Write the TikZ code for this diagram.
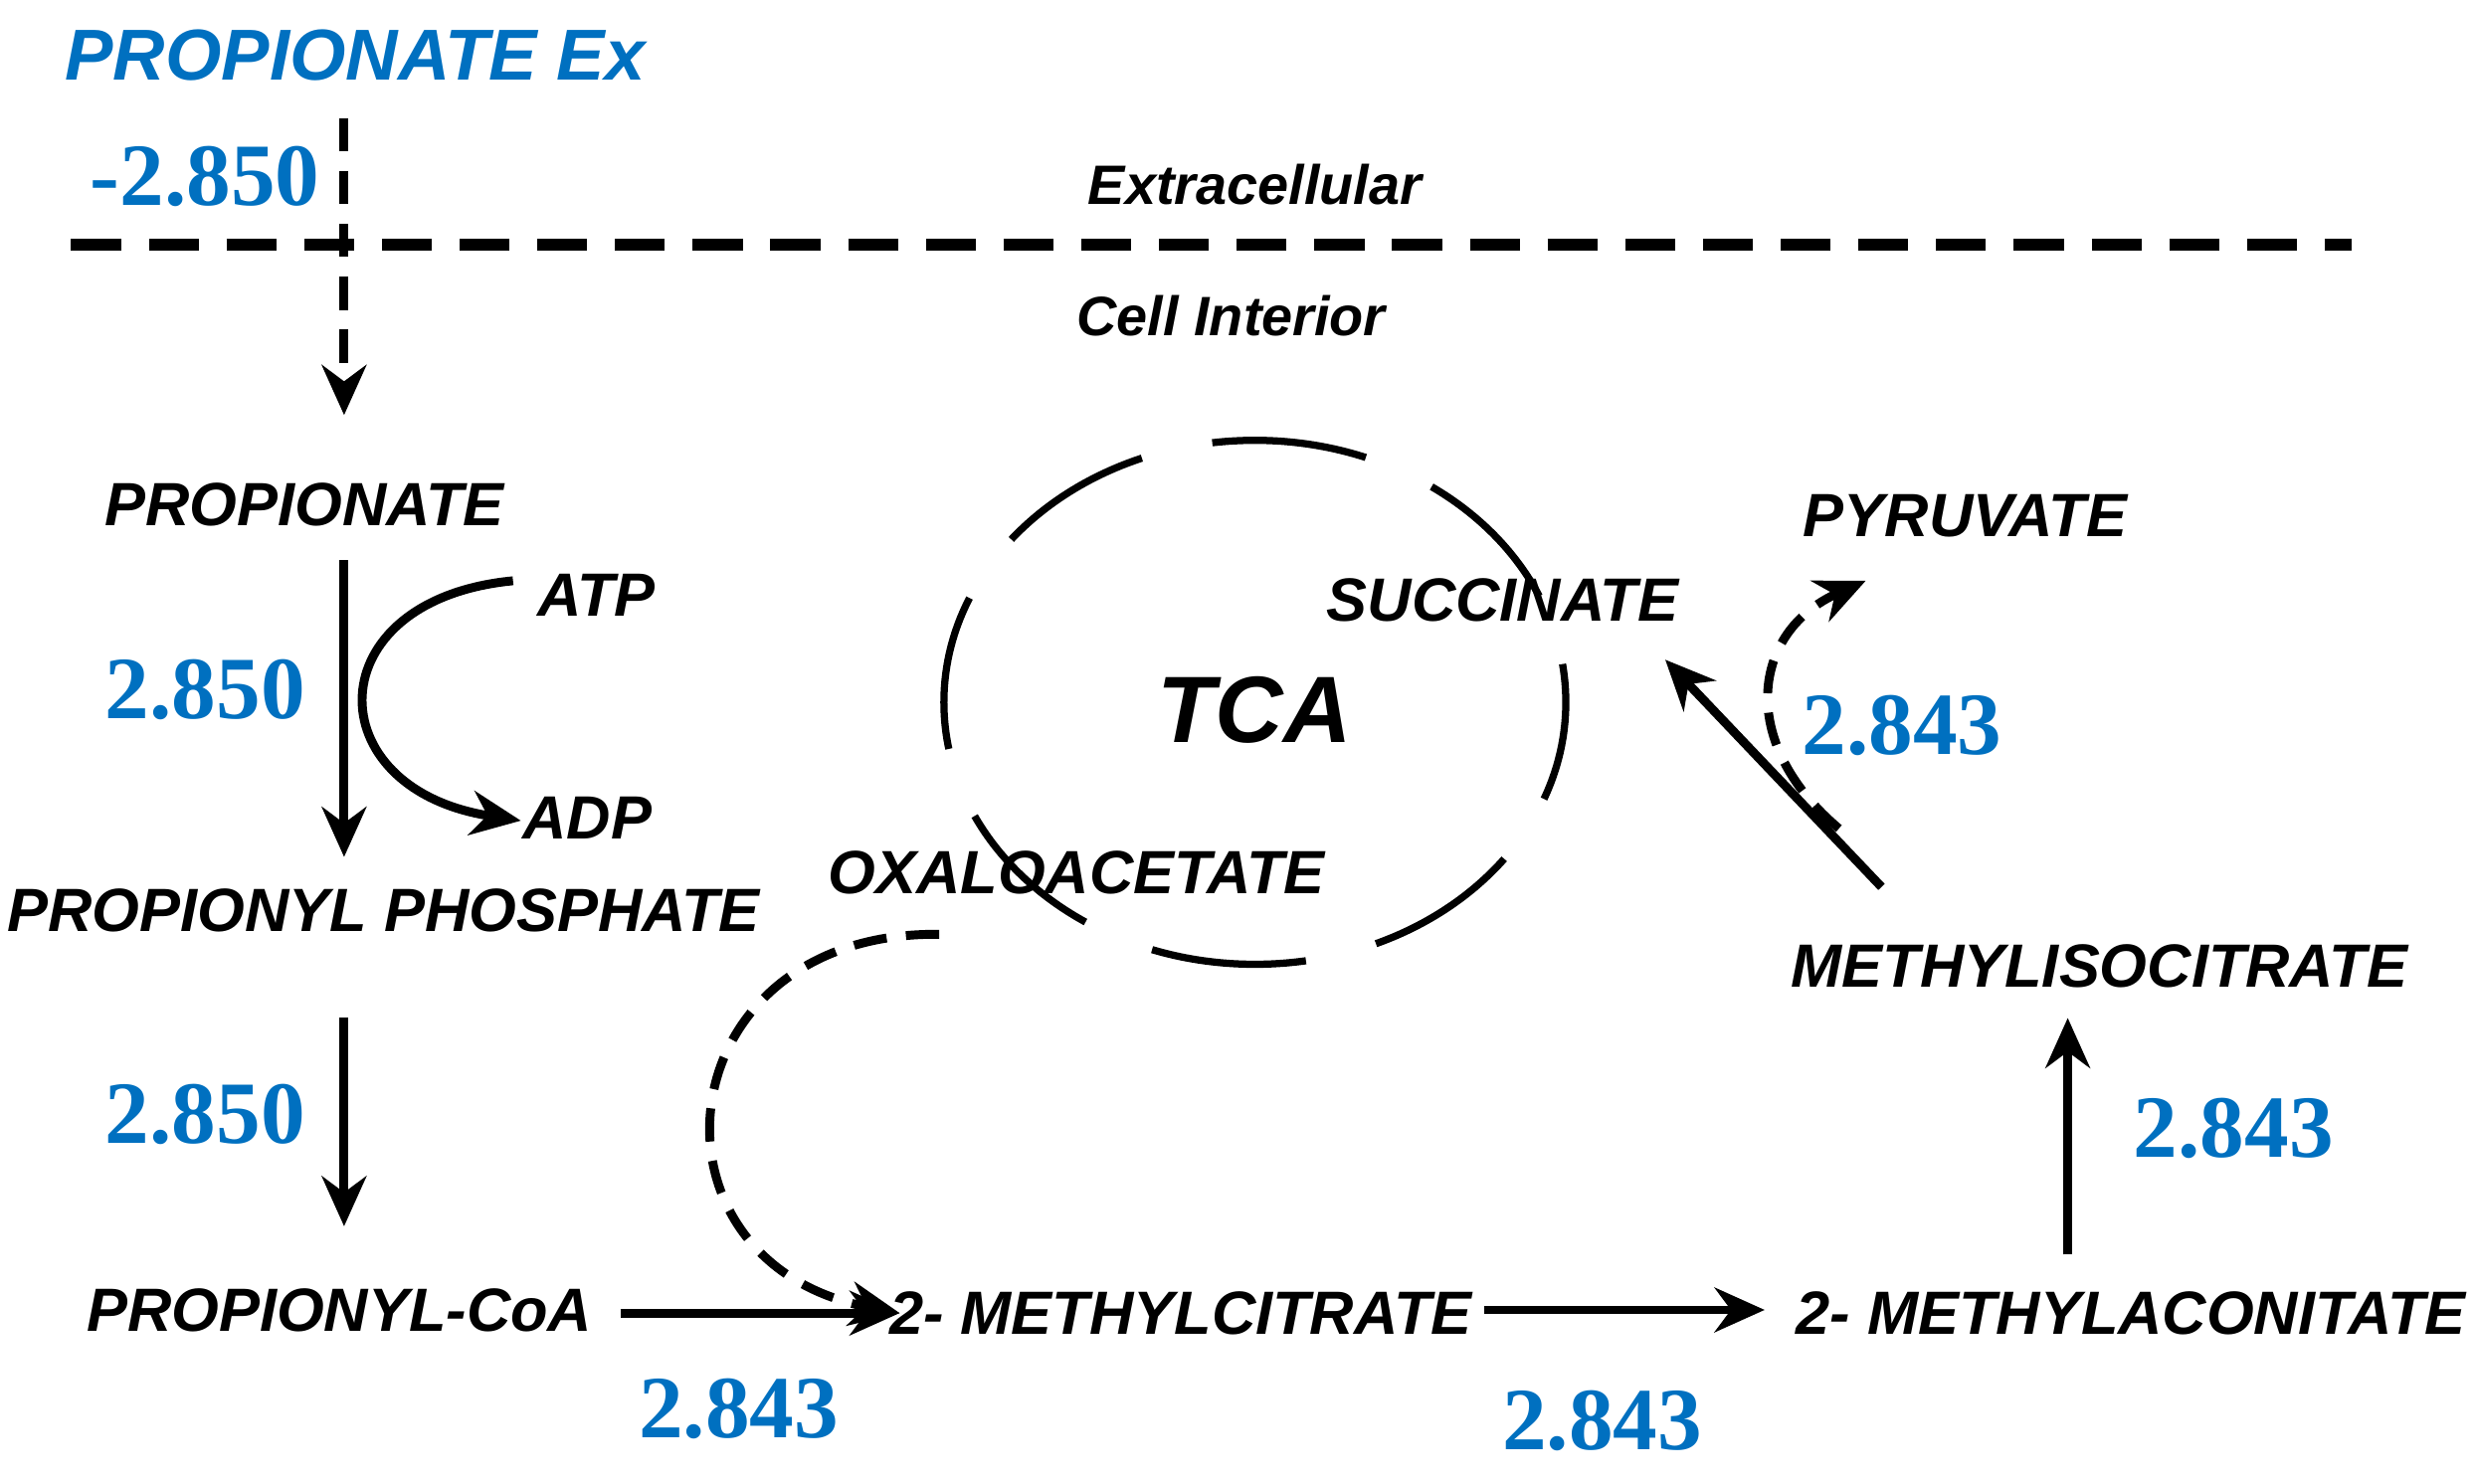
\documentclass[tikz,border=0pt]{standalone}
\usepackage{fontspec}
\setmainfont{Liberation Sans}
\newfontfamily\numfont{Liberation Serif}
\usetikzlibrary{arrows.meta}
\definecolor{nblue}{RGB}{0,112,192}
\tikzset{
 lab/.style={font=\fontsize{11}{13}\selectfont\bfseries\itshape},
 num/.style={font=\fontsize{16}{18}\selectfont\numfont\bfseries, text=nblue},
 arr/.style={line width=1.6pt, -{Stealth[length=9pt,width=8pt]}},
 darr/.style={arr, dash pattern=on 6pt off 3.5pt},
}
\begin{document}
\begin{tikzpicture}[x=0.01cm,y=-0.01cm]
\useasboundingbox (0,0) rectangle (1568,940);
\node[lab,text=nblue,font=\fontsize{13}{15}\selectfont\bfseries\itshape] (pex) at (225,35) {PROPIONATE Ex};
\node[num] (n0) at (130,112) {-2.850};
\node[lab,font=\fontsize{10}{12}\selectfont\bfseries\itshape] (ext) at (795,117) {Extracellular};
\node[lab,font=\fontsize{10}{12}\selectfont\bfseries\itshape] (cin) at (780,200) {Cell Interior};
\coordinate (m1) at (45,155); \coordinate (m2) at (1490,155);
\draw[line width=2.2pt, dash pattern=on 9pt off 5pt] (m1) -- (m2);
\coordinate (t0) at (218,75); \coordinate (t1) at (218,263);
\draw[darr] (t0) -- (t1);
\node[lab] (prop) at (193,320) {PROPIONATE};
\coordinate (a0) at (218,355); \coordinate (a1) at (218,543);
\draw[arr] (a0) -- (a1);
\node[num] (n1) at (130,437) {2.850};
\node[lab] (atp) at (378,377) {ATP};
\node[lab] (adp) at (372,518) {ADP};
\coordinate (c0) at (325,368); \coordinate (c1) at (330,520);
\draw[arr] (c0) .. controls (200,380) and (200,500) .. (c1);
\node[lab] (pp) at (243,577) {PROPIONYL PHOSPHATE};
\coordinate (b0) at (218,645); \coordinate (b1) at (218,777);
\draw[arr] (b0) -- (b1);
\node[num] (n2) at (130,706) {2.850};
\node[lab] (pcoa) at (215,830) {PROPIONYL-CoA};
\node[lab] (mc) at (748,832) {2- METHYLCITRATE};
\node[lab] (ma) at (1350,832) {2- METHYLACONITATE};
\node[lab] (mi) at (1330,612) {METHYLISOCITRATE};
\node[lab] (pyr) at (1245,327) {PYRUVATE};
\node[lab] (suc) at (952,380) {SUCCINATE};
\node[lab] (oxa) at (682,553) {OXALOACETATE};
\node[lab,font=\fontsize{17}{19}\selectfont\bfseries\itshape] (tca) at (795,450) {TCA};
\coordinate (p0) at (393,832); \coordinate (p1) at (570,832);
\draw[arr] (p0) -- (p1);
\node[num] (n3) at (468,893) {2.843};
\coordinate (q0) at (940,830); \coordinate (q1) at (1118,830);
\draw[arr] (q0) -- (q1);
\node[num] (n4) at (1015,900) {2.843};
\coordinate (r0) at (1310,795); \coordinate (r1) at (1310,645);
\draw[arr] (r0) -- (r1);
\node[num] (n5) at (1415,715) {2.843};
\coordinate (s0) at (1192,562); \coordinate (s1) at (1055,418);
\draw[arr] (s0) -- (s1);
\node[num] (n6) at (1205,460) {2.843};
\coordinate (u0) at (1165,525); \coordinate (u1) at (1182,368);
\draw[darr] (u0) .. controls (1100,470) and (1110,400) .. (u1);
\coordinate (o0) at (595,592); \coordinate (o1) at (570,832);
\draw[darr] (o0) .. controls (420,590) and (400,800) .. (o1);
\draw[line width=1.3pt, dash pattern=on 28pt off 13pt, dash phase=10pt] (795,445) ellipse [x radius=197, y radius=166];
\end{tikzpicture}
\end{document}
